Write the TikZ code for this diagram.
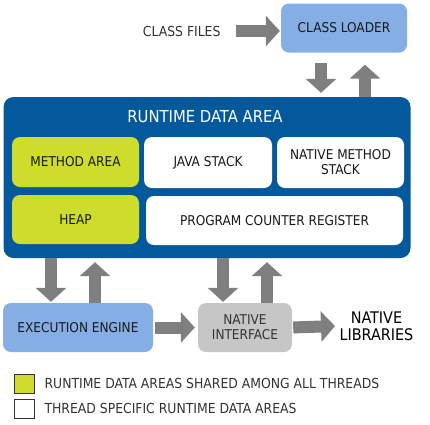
\documentclass[tikz,border=0pt]{standalone}
\usepackage{fontspec}
\setmainfont{DejaVu Sans Condensed}
\usepackage{xcolor}
\usepackage{tikz}
\usetikzlibrary{arrows.meta, positioning, calc}
\definecolor{rdablue}{HTML}{04589C}
\definecolor{lightblue}{HTML}{84AEE4}
\definecolor{shared}{HTML}{CEDD2B}
\definecolor{arrowgray}{HTML}{7F7F7F}
\definecolor{nigray}{HTML}{C6C6C6}
\definecolor{txtgray}{HTML}{333333}
\tikzset{
  area/.style   = {rectangle, rounded corners=8pt, text centered,
                   align=center, text=black!90,
                   font=\fontsize{13.5}{15}\selectfont},
  outer/.style  = {area, draw=none},
  fat/.style    = {draw=arrowgray, line width=12pt,
                   -{Triangle[length=14pt, width=30pt]}},
  label/.style  = {text=txtgray, font=\fontsize{13.8}{15}\selectfont},
  legbox/.style = {rectangle, draw=txtgray, line width=1pt,
                   minimum width=20pt, minimum height=19pt, inner sep=0pt},
}

\begin{document}
\begin{tikzpicture}[x=1pt, y=-1pt]
  \useasboundingbox (0,0) rectangle (430,424);
  % top
  \node[outer, fill=lightblue, minimum width=126pt, minimum height=49pt]
        (loader) at (344,28) {CLASS LOADER};
  \node[label, anchor=east] (files) at (224,31) {CLASS FILES};
  % runtime data area
  \node[outer, fill=rdablue, rounded corners=10pt,
        minimum width=407pt, minimum height=161pt] (rda) at (207,177.5) {};
  \node[text=white, font=\fontsize{16.5}{18}\selectfont] (title) at (205,117)
        {RUNTIME DATA AREA};
  \node[area, fill=shared, minimum width=127pt, minimum height=50pt]
        (method) at (75.5,162) {METHOD AREA};
  \node[area, fill=white, minimum width=128pt, minimum height=51pt]
        (jstack) at (208,162.5) {JAVA STACK};
  \node[area, fill=white, minimum width=127pt, minimum height=51pt]
        (nstack) at (340.5,162.5) {NATIVE METHOD\\STACK};
  \node[area, fill=shared, minimum width=127pt, minimum height=49pt]
        (heap) at (75.5,219.5) {HEAP};
  \node[area, fill=white, minimum width=257pt, minimum height=49pt]
        (pcr) at (274.5,220.5) {PROGRAM COUNTER REGISTER};
  % bottom
  \node[outer, fill=lightblue, minimum width=150pt, minimum height=49pt]
        (engine) at (78,327.5) {EXECUTION ENGINE};
  \node[outer, fill=nigray, minimum width=94pt, minimum height=49pt,
        text=txtgray] (native) at (245,327.5) {NATIVE\\INTERFACE};
  \node[font=\fontsize{16}{17}\selectfont, align=center, anchor=west]
        (libs) at (336,326) {NATIVE\\LIBRARIES};
  % legend
  \node[legbox, fill=shared] (legshared) at (24.5,383.5) {};
  \node[legbox, fill=white, below=5pt of legshared] (legthread) {};
  \node[label, right=6pt of legshared] {RUNTIME DATA AREAS SHARED AMONG ALL THREADS};
  \node[label, right=6pt of legthread] {THREAD SPECIFIC RUNTIME DATA AREAS};
  % arrows
  \draw[fat, shorten <=12pt, shorten >=1pt] (files.east |- 0,31) -- (loader.west |- 0,31);
  \draw[fat, shorten <=10pt, shorten >=4pt]
        ([xshift=-23pt]loader.south) -- ([xshift=-23pt]loader.south |- rda.north);
  \draw[fat, shorten >=12pt]
        ([xshift=21pt]loader.south |- rda.north) -- ([xshift=21pt]loader.south);
  \draw[fat, shorten >=1pt]
        ([xshift=-27pt]engine.north |- rda.south) -- ([xshift=-27pt]engine.north);
  \draw[fat, shorten >=4pt]
        ([xshift=17pt]engine.north) -- ([xshift=17pt]engine.north |- rda.south);
  \draw[fat, shorten >=1pt]
        ([xshift=-22pt]native.north |- rda.south) -- ([xshift=-22pt]native.north);
  \draw[fat, shorten >=4pt]
        ([xshift=22pt]native.north) -- ([xshift=22pt]native.north |- rda.south);
  \draw[fat, shorten <=2pt, shorten >=3pt] (engine) -- (native);
  \draw[fat, shorten <=1pt, shorten >=1pt] (native.east) -- (libs.west);
\end{tikzpicture}
\end{document}
